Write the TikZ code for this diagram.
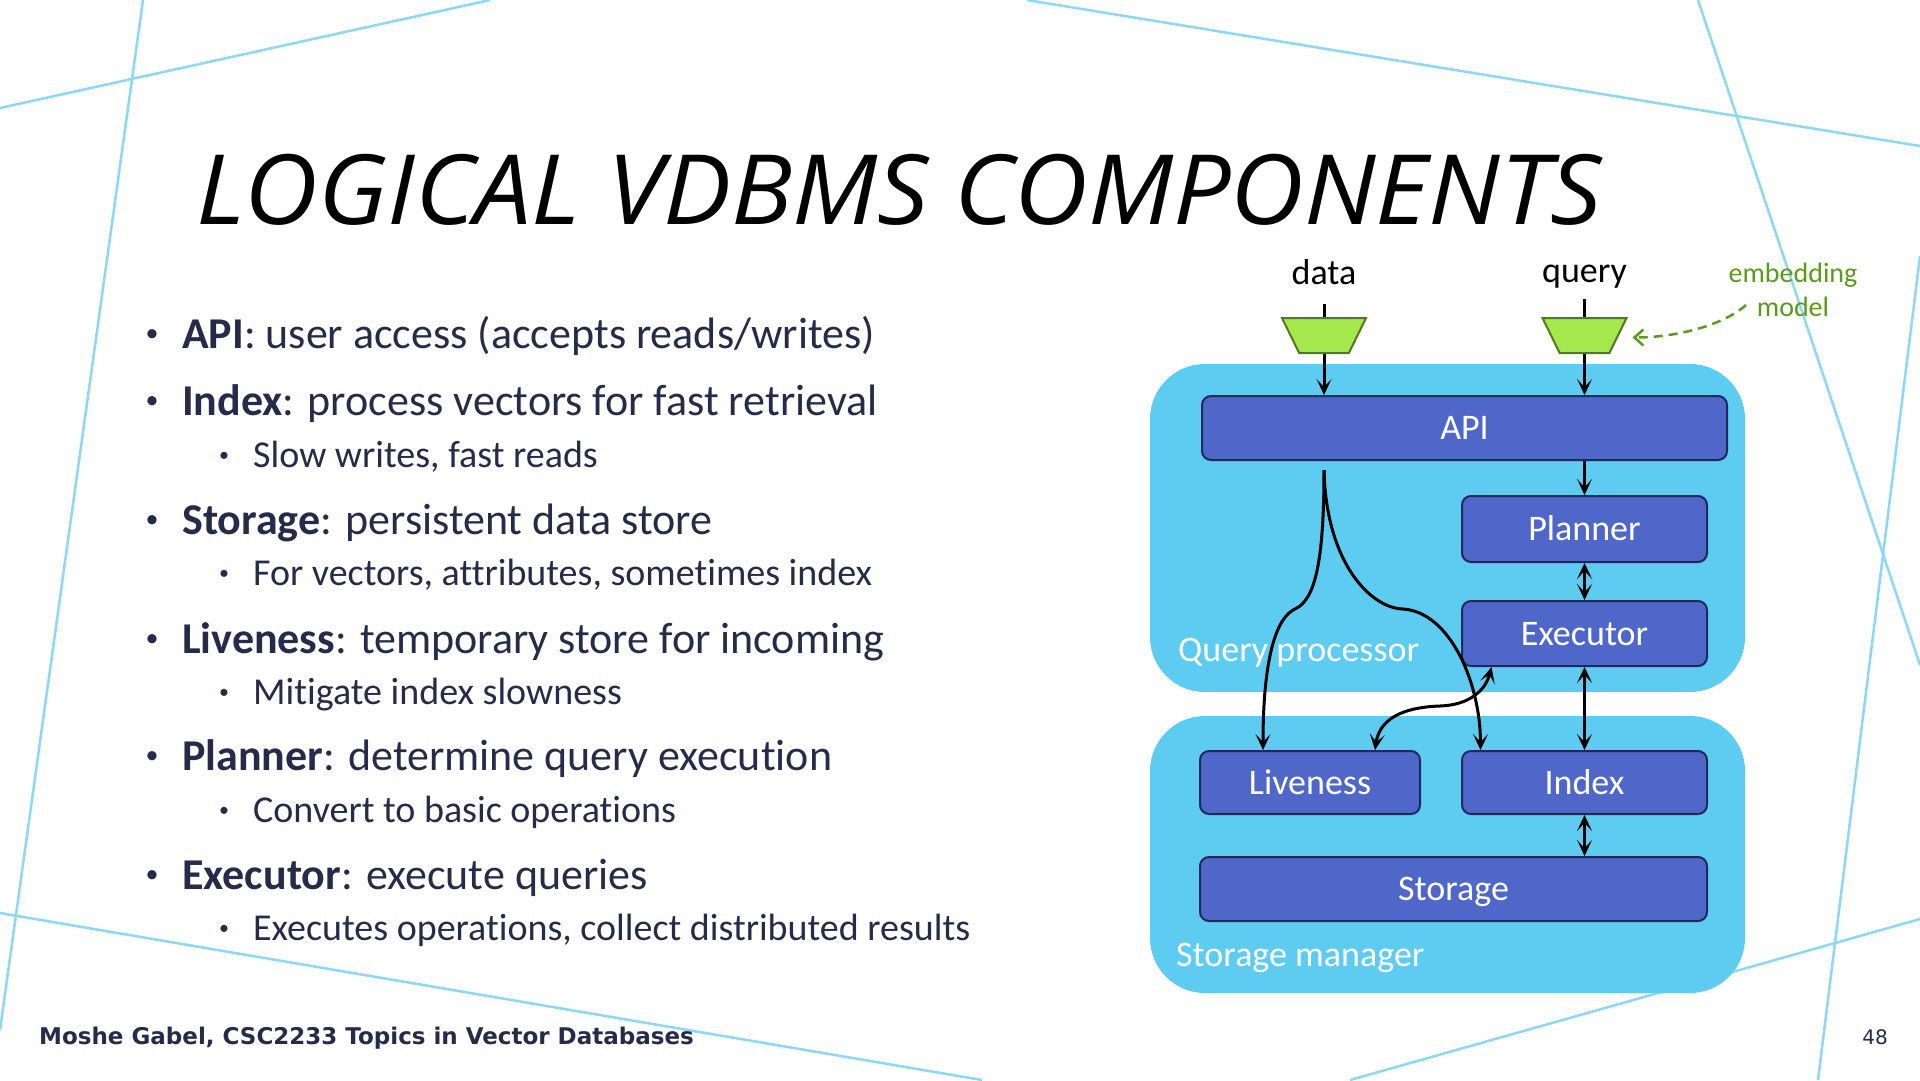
\documentclass[tikz,border=0pt]{standalone}
\usepackage{fontspec}
\setmainfont{Carlito}[Ligatures={TeX,NoCommon}]
\newfontfamily\titlefont{Open Sans}
\newfontfamily\footfont{DejaVu Sans}
\usepackage{tikz}
\usetikzlibrary{positioning,arrows.meta,calc,shapes.geometric}
\definecolor{slidenavy}{HTML}{262B4A}
\definecolor{decoline}{HTML}{8DD7F7}
\definecolor{layerfill}{HTML}{5ECBF1}
\definecolor{compfill}{HTML}{4F67C8}
\definecolor{compedge}{HTML}{1F2A5C}
\definecolor{funfill}{HTML}{A5E84D}
\definecolor{funedge}{HTML}{4F7A1E}
\definecolor{embgreen}{HTML}{5A9A1C}
\newcommand{\pxfont}[2]{\fontsize{#1}{#2}\selectfont}
% small bullets, as on the slide
\newcommand{\mainbul}{\makebox[42pt][l]{\hspace{5.5pt}\raisebox{7pt}{\pxfont{26}{26}•}}}
\newcommand{\subbul}{\makebox[39pt][l]{\hspace{5pt}\raisebox{6pt}{\pxfont{20}{20}•}}}

\begin{document}
\begin{tikzpicture}[x=1pt, y=1pt,
  layer/.style={fill=layerfill, rounded corners=55pt, minimum width=595pt, inner sep=0pt},
  comp/.style={draw=compedge, line width=2pt, fill=compfill, rounded corners=9pt, text=white,
    font=\pxfont{36}{42}, text height=23pt, text depth=0pt, inner sep=0pt},
  funnel/.style={trapezium, shape border rotate=180, trapezium angle=71, trapezium stretches=true,
    draw=funedge, line width=2pt, fill=funfill, minimum width=84pt, minimum height=35pt, inner sep=2pt},
  arr/.style={-{Stealth[length=16pt,width=15pt,inset=8pt]}, line width=3pt},
  darr/.style={{Stealth[length=16pt,width=15pt,inset=8pt]}-{Stealth[length=16pt,width=15pt,inset=8pt]}, line width=3pt},
  deco/.style={decoline, line width=2.5pt},
  itm/.style={anchor=base west, text=slidenavy, font=\pxfont{44}{52}, inner sep=0pt},
  sub/.style={anchor=base west, text=slidenavy, font=\pxfont{38}{46}, inner sep=0pt},
  lbl/.style={anchor=base west, text=white, font=\pxfont{36}{42}, inner sep=0pt}
]
\useasboundingbox (0,0) rectangle (1920,-1080);
\fill[white] (0,0) rectangle (1920,-1080);

% background strokes
\draw[deco] (143,0) -- (0,-1030);
\draw[deco] (0,-108) -- (490,0);
\draw[deco] (1027,0) -- (1920,-146);
\draw[deco] (1698,0) -- (1920,-665);
\draw[deco] (1818,-1080) -- (1920,-256);
\draw[deco] (1920,-919) -- (1350,-1080);
\draw[deco] (0,-913) -- (982,-1080);

% title and bullets
\node[anchor=base west, inner sep=0pt, font=\titlefont\itshape\pxfont{97}{110}] (title) at (196,-224) {\scalebox{1.049}[1]{LOGICAL VDBMS COMPONENTS}};

\node[itm] (t-api) at (140,-348) {\mainbul\textbf{API}: user access (accepts reads/writes)};
\node[itm] (t-index) at (140,-415) {\mainbul\textbf{Index}: process vectors for fast retrieval};
\node[sub] (s-index) at (214,-467) {\subbul Slow writes, fast reads};
\node[itm] (t-storage) at (140,-534) {\mainbul\textbf{Storage}: persistent data store};
\node[sub] (s-storage) at (214,-585) {\subbul For vectors, attributes, sometimes index};
\node[itm] (t-live) at (140,-653) {\mainbul\textbf{Liveness}: temporary store for incoming};
\node[sub] (s-live) at (214,-704) {\subbul Mitigate index slowness};
\node[itm] (t-plan) at (140,-770) {\mainbul\textbf{Planner}: determine query execution};
\node[sub] (s-plan) at (214,-822) {\subbul Convert to basic operations};
\node[itm] (t-exec) at (140,-889) {\mainbul\textbf{Executor}: execute queries};
\node[sub] (s-exec) at (214,-940) {\subbul Executes operations, collect distributed results};

% layers
\node[layer, minimum height=328pt] (qproc) at (1447.5,-528) {};
\node[layer, minimum height=277pt] (smgr) at (1447.5,-854.5) {};
\node[lbl] (qproc-lbl) at (1178,-661) {Query processor};
\node[lbl] (smgr-lbl) at (1176,-966) {Storage manager};

% components
\node[comp, minimum width=525pt, minimum height=64pt] (api) at (1464.5,-428) {API};
\node[comp, minimum width=245pt, minimum height=66pt] (planner) at (1584.5,-529) {Planner};
\node[comp, minimum width=245pt, minimum height=65pt] (executor) at (1584.5,-633.5) {Executor};
\node[comp, minimum width=220pt, minimum height=63pt] (liveness) at (1310,-782.5) {Liveness};
\node[comp, minimum width=245pt, minimum height=63pt] (index) at (1584.5,-782.5) {Index};
\node[comp, minimum width=507pt, minimum height=64pt] (storage) at (1453.5,-889) {Storage};

% inputs
\node[anchor=base, inner sep=0pt, font=\pxfont{36}{40}] (data-lbl) at (1324,-284) {data};
\node[anchor=base, inner sep=0pt, font=\pxfont{36}{40}] (query-lbl) at (1584.5,-282) {query};
\node[funnel] (datafun) at (1324,-335.5) {};
\node[funnel] (queryfun) at (1584.5,-335.5) {};
\node[align=center, text=embgreen, font=\pxfont{28}{34}, inner sep=0pt] (embed) at (1793,-290) {embedding\\model};

\coordinate (datain) at (1324,-304);
\coordinate (queryin) at (1584.5,-299);
\coordinate (split) at ($(api.south -| datafun)+(0,-9)$);
\coordinate (lkink) at (1295,-609);
\coordinate (rkink) at (1403,-609);
\coordinate (lxkink) at (1440,-706);
\coordinate (embtail) at (1746,-305);
\coordinate (embtip) at ($(queryfun.center)+(48,-2)$);

% connectors
\draw[line width=3pt] (datain) -- (datafun);
\draw[line width=3pt] (queryin) -- (queryfun);
\draw[arr] (datafun) -- (datafun |- api.north);
\draw[arr] (queryfun) -- (queryfun |- api.north);
\draw[arr] (api.south -| planner.north) -- (planner.north);
\draw[darr] (planner) -- (executor);
\draw[darr] (executor) -- (index);
\draw[darr] (index.south) -- (index.south |- storage.north);
\draw[arr] (split) .. controls +(0,-92) and +(20,9) .. (lkink)
  .. controls +(-20,-9) and +(0,88) .. ([xshift=-47pt]liveness.north);
\draw[arr] (split) .. controls +(2,-92) and +(-33,1) .. (rkink)
  .. controls +(47,-3) and +(0,67) .. ([xshift=-104pt]index.north);
\draw[darr] ([xshift=65pt]liveness.north) .. controls +(5,35) and +(-30,-1) .. (lxkink)
  .. controls +(30,1) and +(-6,-23) .. ([xshift=-93pt]executor.south);
\draw[embgreen, line width=2.5pt, dash pattern=on 9pt off 6pt, -{Straight Barb[length=9pt,width=16pt]}]
  (embtail) .. controls +(-25,-22) and +(40,0) .. (embtip);

% footer
\node[anchor=base west, inner sep=0pt, text=slidenavy, font=\footfont\bfseries\pxfont{23}{28}] (footer) at (39,-1044) {Moshe Gabel, CSC2233 Topics in Vector Databases};
\node[anchor=base, inner sep=0pt, text=slidenavy, font=\footfont\pxfont{20}{24}] (pageno) at (1875,-1044) {48};
\end{tikzpicture}
\end{document}
